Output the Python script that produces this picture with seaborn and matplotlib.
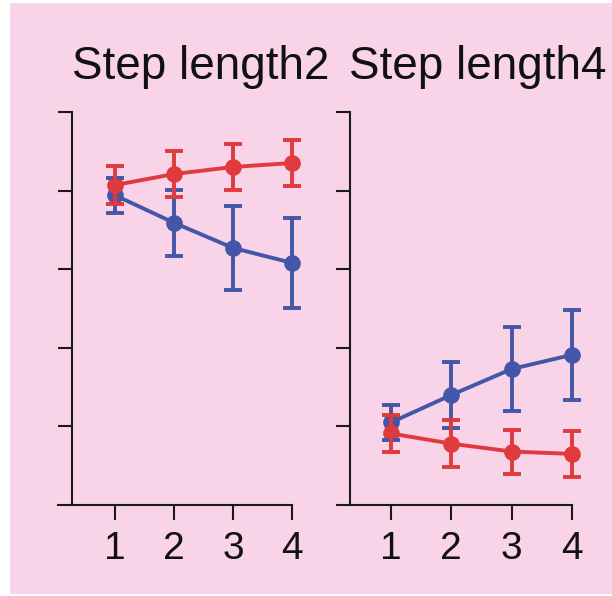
import pandas as pd
import seaborn as sns
import matplotlib.pyplot as plt
from matplotlib.patches import Rectangle

# values (arbitrary y units, ticks at 1..5)
steps = [1, 2, 3, 4]
titles = ['Step length2', 'Step length4']

len2_red = [4.07, 4.21, 4.30, 4.35]
len2_red_err = [0.24, 0.29, 0.29, 0.29]
len2_blue = [3.94, 3.59, 3.27, 3.08]
len2_blue_err = [0.22, 0.42, 0.53, 0.57]

len4_red = [0.91, 0.78, 0.68, 0.65]
len4_red_err = [0.24, 0.30, 0.28, 0.29]
len4_blue = [1.05, 1.40, 1.73, 1.91]
len4_blue_err = [0.22, 0.42, 0.54, 0.57]

y_ticks = [0, 1, 2, 3, 4, 5]

BLUE = '#4456a8'
RED = '#e03a3c'
PINK = '#f9d3e8'

sns.set_theme(style='ticks')
plt.rcParams['font.family'] = ['Liberation Sans', 'DejaVu Sans']

fig = plt.figure(figsize=(6.12, 5.96), dpi=100)
fig.patch.set_facecolor('white')
fig.patches.append(Rectangle((10 / 612, 2 / 596), 602 / 612, 591 / 596,
                             transform=fig.transFigure, facecolor=PINK,
                             edgecolor='none', zorder=-10))

# axes boxes in figure fractions (left, bottom, width, height)
ax_boxes = [(56 / 612, 91 / 596, 247.8 / 612, 397 / 596),
            (330.7 / 612, 91 / 596, 253.4 / 612, 397 / 596)]
spine_x = [0.263, 0.32]
xaxis_start = [0.03, 0.105]
title_x = [201 / 612, 478 / 612]

panels = [
    (len2_blue, len2_blue_err, len2_red, len2_red_err),
    (len4_blue, len4_blue_err, len4_red, len4_red_err),
]

for i, (blue, blue_err, red, red_err) in enumerate(panels):
    ax = fig.add_axes(ax_boxes[i])
    ax.set_facecolor('none')

    df = pd.DataFrame({
        'step': steps * 2,
        'value': blue + red,
        'group': ['blue'] * 4 + ['red'] * 4,
    })
    sns.lineplot(data=df, x='step', y='value', hue='group',
                 palette={'blue': BLUE, 'red': RED}, marker='o',
                 markersize=12, markeredgewidth=0, linewidth=2.8,
                 legend=False, ax=ax)
    for vals, errs, col, z in [(blue, blue_err, BLUE, 2), (red, red_err, RED, 3)]:
        ax.errorbar(steps, vals, yerr=errs, fmt='none', ecolor=col,
                    elinewidth=2.8, capsize=6.5, capthick=2.8, zorder=z)

    ax.set_xlim(0, 4.2)
    ax.set_ylim(0, 5.05)
    ax.set_xticks(steps)
    ax.set_xticklabels([str(s) for s in steps])
    ax.set_yticks(y_ticks[1:])
    ax.set_yticklabels([])
    ax.set_xlabel('')
    ax.set_ylabel('')

    for side in ['top', 'right']:
        ax.spines[side].set_visible(False)
    ax.spines['left'].set_position(('data', spine_x[i]))
    ax.spines['left'].set_bounds(0, 5)
    ax.spines['bottom'].set_bounds(xaxis_start[i], 4)
    for side in ['left', 'bottom']:
        ax.spines[side].set_linewidth(1.5)
        ax.spines[side].set_color('#1a1a1a')

    ax.tick_params(axis='x', length=11, width=1.5, color='#1a1a1a',
                   labelsize=28, pad=8, labelcolor='#111111')
    ax.tick_params(axis='y', length=10, width=1.5, color='#1a1a1a')

    fig.text(title_x[i], 1 - 79 / 596, titles[i], ha='center', va='baseline',
             fontsize=33, color='#111111')

fig.savefig('out.png', dpi=100, facecolor=fig.get_facecolor())
